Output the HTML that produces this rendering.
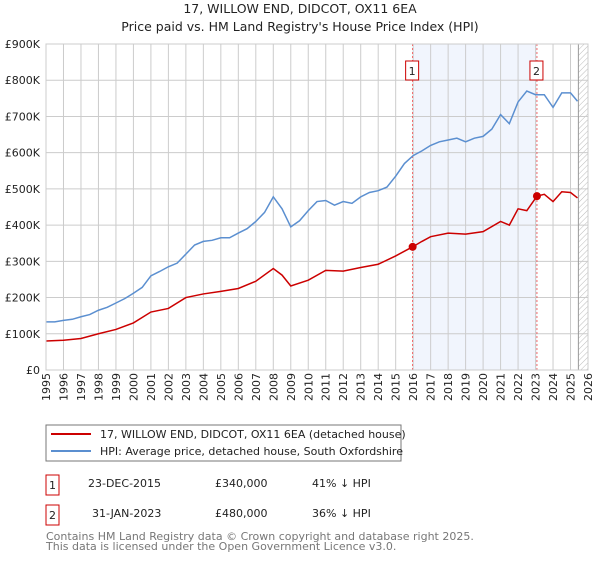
<!DOCTYPE html>
<html><head><meta charset="utf-8"><style>
body{margin:0;background:#fff;font-family:"Liberation Sans","DejaVu Sans",sans-serif;}
svg text{font-family:"DejaVu Sans","Liberation Sans",sans-serif;}
</style></head><body>
<svg width="600" height="560" xmlns="http://www.w3.org/2000/svg">
<defs><pattern id="hatch" width="4" height="4" patternUnits="userSpaceOnUse" patternTransform="rotate(45)"><line x1="0" y1="0" x2="0" y2="4" stroke="#bbb" stroke-width="1"/></pattern></defs>
<text x="300" y="13" text-anchor="middle" font-size="12.5" fill="#222">17, WILLOW END, DIDCOT, OX11 6EA</text>
<text x="300" y="31" text-anchor="middle" font-size="12.5" fill="#222">Price paid vs. HM Land Registry's House Price Index (HPI)</text>
<g id="plot"></g>
<rect x="46" y="425" width="355" height="36" fill="#fff" stroke="#777"/>
<line x1="51" y1="434" x2="91" y2="434" stroke="#cc0000" stroke-width="2"/>
<text x="100" y="438" font-size="11" fill="#222">17, WILLOW END, DIDCOT, OX11 6EA (detached house)</text>
<line x1="51" y1="451" x2="91" y2="451" stroke="#5b8fd0" stroke-width="2"/>
<text x="100" y="455" font-size="11" fill="#222">HPI: Average price, detached house, South Oxfordshire</text>
<rect x="46" y="475" width="13" height="20" fill="none" stroke="#cc0000"/>
<text x="52.5" y="489" font-size="11" text-anchor="middle" fill="#222">1</text>
<text x="88" y="487" font-size="11" fill="#222">23-DEC-2015</text>
<text x="215" y="487" font-size="11" fill="#222">£340,000</text>
<text x="312" y="487" font-size="11" fill="#222">41% ↓ HPI</text>
<rect x="46" y="505" width="13" height="20" fill="none" stroke="#cc0000"/>
<text x="52.5" y="519" font-size="11" text-anchor="middle" fill="#222">2</text>
<text x="92" y="517" font-size="11" fill="#222">31-JAN-2023</text>
<text x="215" y="517" font-size="11" fill="#222">£480,000</text>
<text x="312" y="517" font-size="11" fill="#222">36% ↓ HPI</text>
<text x="46" y="540" font-size="11" fill="#777">Contains HM Land Registry data © Crown copyright and database right 2025.</text>
<text x="46" y="550" font-size="11" fill="#777">This data is licensed under the Open Government Licence v3.0.</text>
</svg>
<script>
const hpiYears=[1995,1995.5,1996,1996.5,1997,1997.5,1998,1998.5,1999,1999.5,2000,2000.5,2001,2001.5,2002,2002.5,2003,2003.5,2004,2004.5,2005,2005.5,2006,2006.5,2007,2007.5,2008,2008.5,2009,2009.5,2010,2010.5,2011,2011.5,2012,2012.5,2013,2013.5,2014,2014.5,2015,2015.5,2016,2016.5,2017,2017.5,2018,2018.5,2019,2019.5,2020,2020.5,2021,2021.5,2022,2022.5,2023,2023.5,2024,2024.5,2025,2025.4];
const hpiValues=[133,133,137,140,147,153,165,173,185,197,212,228,260,272,285,295,320,345,355,358,365,365,378,390,410,435,478,445,395,412,440,465,468,455,465,460,478,490,495,505,535,570,592,605,620,630,635,640,630,640,645,665,705,680,740,770,760,760,725,765,765,742];
const propYears=[1995,1996,1997,1998,1999,2000,2001,2002,2003,2004,2005,2006,2007,2008,2008.5,2009,2010,2011,2012,2013,2014,2015,2015.97,2016.5,2017,2018,2019,2020,2021,2021.5,2022,2022.5,2023.08,2023.5,2024,2024.5,2025,2025.4];
const propValues=[80,82,87,100,112,130,160,170,200,210,217,225,245,280,262,232,248,275,273,283,292,315,340,355,368,378,375,382,410,400,445,440,480,485,465,492,490,475];
const saleYears=[2015.97,2023.08];
const saleValues=[340,480];
const saleLabels=["1","2"];
const yTicks=[0,100,200,300,400,500,600,700,800,900];
const yTickLabels=["£0","£100K","£200K","£300K","£400K","£500K","£600K","£700K","£800K","£900K"];
const xTicks=[];for(let y=1995;y<=2026;y++)xTicks.push(y);
const X0=46,X1=588,Y0=370,Y1=44;
const xs=v=>X0+(v-1995)/(2026-1995)*(X1-X0);
const ys=v=>Y0-v/900*(Y0-Y1);
const NS="http://www.w3.org/2000/svg";
const g=document.getElementById('plot');
function mk(t,a){const e=document.createElementNS(NS,t);for(const k in a)e.setAttribute(k,a[k]);g.appendChild(e);return e;}
let r=mk('rect',{x:xs(saleYears[0]),y:Y1,width:xs(saleYears[1])-xs(saleYears[0]),height:Y0-Y1,fill:'#eef3fc',opacity:0.8});


r=mk('rect',{x:xs(2025.45),y:Y1,width:X1-xs(2025.45),height:Y0-Y1,fill:'url(#hatch)'});


xTicks.forEach(t=>{const l=mk('line',{x1:xs(t),x2:xs(t),y1:Y1,y2:Y0,stroke:'#ccc','stroke-width':1});


const tx=mk('text',{x:0,y:0,'font-size':11,fill:'#222','text-anchor':'end',transform:`translate(${xs(t)+4},${Y0+3}) rotate(-90)`});tx.textContent=t;

});
yTicks.forEach((t,i)=>{const l=mk('line',{x1:X0,x2:X1,y1:ys(t),y2:ys(t),stroke:'#ccc','stroke-width':1});


const tx=mk('text',{x:X0-6,y:ys(t)+4,'font-size':11,fill:'#222','text-anchor':'end'});tx.textContent=yTickLabels[i];

});
r=mk('line',{x1:xs(2025.45),x2:xs(2025.45),y1:Y1,y2:Y0,stroke:'#999','stroke-width':1});


saleYears.forEach((sy,i)=>{const l=mk('line',{x1:xs(sy),x2:xs(sy),y1:Y1,y2:Y0,stroke:'#e44','stroke-width':0.8,'stroke-dasharray':'2,2'});


const b=mk('rect',{x:xs(sy)-7,y:61,width:13,height:19,fill:'#fff',stroke:'#cc0000'});


const tx=mk('text',{x:xs(sy)-0.5,y:75,'font-size':11,'text-anchor':'middle',fill:'#222'});tx.textContent=saleLabels[i];

});
let p=mk('polyline',{points:hpiYears.map((y,i)=>xs(y)+','+ys(hpiValues[i])).join(' '),fill:'none',stroke:'#5b8fd0','stroke-width':1.5});


p=mk('polyline',{points:propYears.map((y,i)=>xs(y)+','+ys(propValues[i])).join(' '),fill:'none',stroke:'#cc0000','stroke-width':1.5});


saleYears.forEach((sy,i)=>{const c=mk('circle',{cx:xs(sy),cy:ys(saleValues[i]),r:4,fill:'#cc0000'});

});
r=mk('rect',{x:X0,y:Y1,width:X1-X0,height:Y0-Y1,fill:'none',stroke:'#ccc'});


</script>
</body></html>
